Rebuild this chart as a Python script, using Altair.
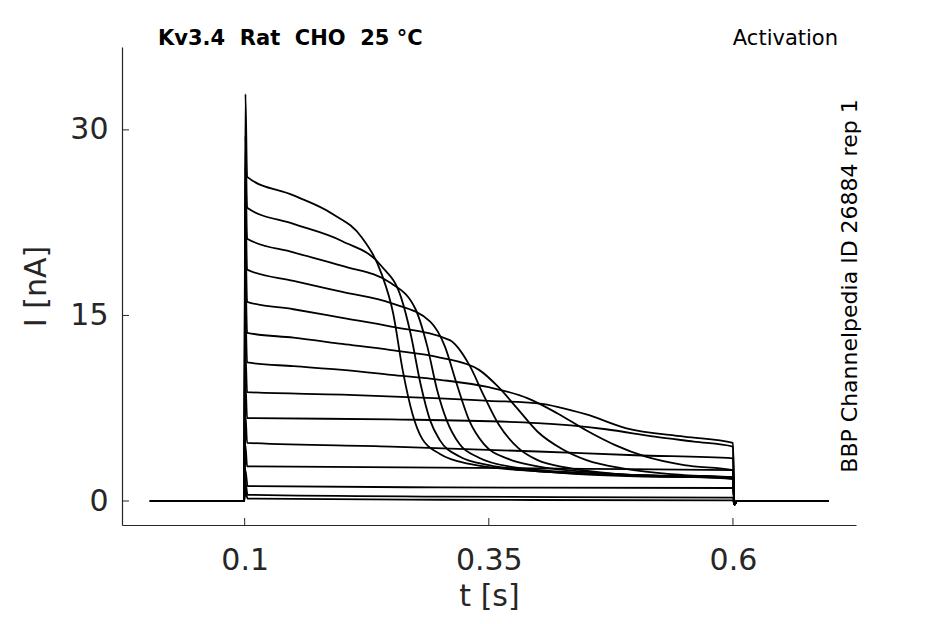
import altair as alt
import pandas as pd

# current traces, knots: (time [s], current [nA])
pre_t = [0.003, 0.0995]
post_t = [0.6015, 0.604, 0.698]
post_i = [-0.3, 0.0, 0.0]

traces = [
    ([0.1008, 0.1025, 0.15, 0.19, 0.22, 0.24, 0.252, 0.262, 0.272, 0.282, 0.30, 0.33, 0.40, 0.5, 0.6],
     [32.9, 26.2, 24.7, 23.2, 21.3, 18.4, 15.2, 10.5, 7.0, 5.0, 3.8, 3.0, 2.4, 2.1, 1.9]),
    ([0.1008, 0.1025, 0.15, 0.2, 0.24, 0.26, 0.27, 0.28, 0.29, 0.30, 0.32, 0.35, 0.42, 0.5, 0.6],
     [29.5, 23.7, 22.4, 21.0, 19.0, 16.5, 13.5, 9.5, 6.5, 4.9, 3.6, 2.9, 2.3, 2.0, 1.9]),
    ([0.1008, 0.1025, 0.15, 0.2, 0.25, 0.275, 0.287, 0.297, 0.307, 0.32, 0.34, 0.37, 0.44, 0.52, 0.6],
     [27.0, 21.2, 20.1, 19.0, 17.6, 15.5, 12.5, 9.0, 6.5, 4.6, 3.5, 2.8, 2.3, 2.0, 1.9]),
    ([0.1008, 0.1025, 0.15, 0.2, 0.25, 0.29, 0.305, 0.317, 0.33, 0.345, 0.37, 0.40, 0.46, 0.53, 0.6],
     [24.0, 18.7, 17.8, 16.9, 16.0, 14.5, 12.5, 9.5, 6.5, 4.6, 3.4, 2.8, 2.3, 2.0, 1.8]),
    ([0.1008, 0.1025, 0.15, 0.2, 0.25, 0.31, 0.33, 0.345, 0.36, 0.38, 0.40, 0.43, 0.48, 0.54, 0.6],
     [21.0, 16.1, 15.5, 14.8, 14.1, 13.0, 11.0, 8.5, 6.2, 4.3, 3.3, 2.7, 2.2, 2.0, 1.8]),
    ([0.1008, 0.1025, 0.15, 0.2, 0.25, 0.3, 0.34, 0.36, 0.38, 0.40, 0.425, 0.45, 0.49, 0.55, 0.6],
     [18.0, 13.6, 13.2, 12.7, 12.2, 11.6, 10.6, 9.2, 7.4, 5.6, 4.2, 3.3, 2.6, 2.1, 1.9]),
    ([0.1008, 0.1025, 0.15, 0.2, 0.25, 0.3, 0.35, 0.39, 0.42, 0.45, 0.48, 0.51, 0.55, 0.6],
     [15.0, 11.2, 10.9, 10.6, 10.2, 9.8, 9.2, 8.3, 7.1, 5.7, 4.5, 3.6, 2.9, 2.5]),
    ([0.1008, 0.1025, 0.2, 0.3, 0.35, 0.4, 0.45, 0.49, 0.55, 0.6],
     [12.0, 8.8, 8.6, 8.3, 8.1, 7.9, 7.0, 5.9, 5.2, 4.7]),
    ([0.1008, 0.1025, 0.25, 0.4, 0.47, 0.52, 0.56, 0.6],
     [9.5, 6.7, 6.6, 6.3, 5.8, 5.2, 4.8, 4.4]),
    ([0.1008, 0.1025, 0.25, 0.4, 0.5, 0.6],
     [7.0, 4.7, 4.4, 4.0, 3.7, 3.45]),
    ([0.1008, 0.1025, 0.3, 0.45, 0.6],
     [4.5, 2.8, 2.7, 2.6, 2.5]),
    ([0.1008, 0.103, 0.3, 0.6],
     [2.5, 1.2, 1.1, 1.05]),
    ([0.1008, 0.103, 0.3, 0.6],
     [1.5, 0.5, 0.35, 0.27]),
    ([0.1008, 0.103, 0.3, 0.6],
     [0.8, 0.2, 0.1, 0.05]),
]

rows = []
for k, (ts, vs) in enumerate(traces):
    for t, v in zip(pre_t + ts + post_t, [0.0, 0.0] + vs + post_i):
        rows.append({"trace": k, "t": t, "I": v})
df = pd.DataFrame(rows)

x_ticks = [0.1, 0.35, 0.6]
y_ticks = [0, 15, 30]
W, H = 734, 478
FONT = "DejaVu Sans"
NB = "\u00a0"

xs = alt.Scale(domain=[-0.0256, 0.726], nice=False, zero=False)
ys = alt.Scale(domain=[-1.94, 36.7], nice=False, zero=False)

lines = alt.Chart(df).mark_line(color="black", strokeWidth=1.8, interpolate="monotone").encode(
    x=alt.X("t:Q", scale=xs, title="t [s]",
            axis=alt.Axis(values=x_ticks, format="~g", ticks=False, grid=False,
                          labelPadding=20, titlePadding=6)),
    y=alt.Y("I:Q", scale=ys, title="I [nA]",
            axis=alt.Axis(values=y_ticks, ticks=False, grid=False,
                          labelPadding=14, titlePadding=18)),
    detail="trace:N",
)

xtick = alt.Chart(pd.DataFrame({"t": x_ticks})).mark_rule(color="#262626").encode(
    x=alt.X("t:Q", scale=xs), y=alt.value(H), y2=alt.value(H - 7))
ytick = alt.Chart(pd.DataFrame({"I": y_ticks})).mark_rule(color="#262626").encode(
    y=alt.Y("I:Q", scale=ys), x=alt.value(0), x2=alt.value(7))

title = alt.Chart(pd.DataFrame({"s": [f"Kv3.4{NB}{NB}Rat{NB}{NB}CHO{NB}{NB}25 °C"]})).mark_text(
    font=FONT, fontSize=21, fontWeight="bold", align="left", baseline="middle").encode(
    text="s:N", x=alt.value(36), y=alt.value(-8))
act = alt.Chart(pd.DataFrame({"s": ["Activation"]})).mark_text(
    font=FONT, fontSize=21, align="right", baseline="middle").encode(
    text="s:N", x=alt.value(716), y=alt.value(-8))
side = alt.Chart(pd.DataFrame({"s": ["BBP Channelpedia ID 26884 rep 1"]})).mark_text(
    font=FONT, fontSize=22, angle=270, align="center", baseline="middle").encode(
    text="s:N", x=alt.value(728), y=alt.value(239))

chart = alt.layer(lines, xtick, ytick, title, act, side).properties(
    width=W, height=H, autosize=alt.AutoSizeParams(type="none"),
    padding={"left": 114, "top": 39, "right": 81, "bottom": 91},
).configure_view(stroke=None).configure_axis(
    domainColor="#262626", domainWidth=1.2, labelFont=FONT, titleFont=FONT,
    labelFontSize=30, titleFontSize=30, labelColor="#262626", titleColor="#262626",
    titleFontWeight="normal",
)

chart.save("out.html", embed_options={"renderer": "svg", "actions": False})
